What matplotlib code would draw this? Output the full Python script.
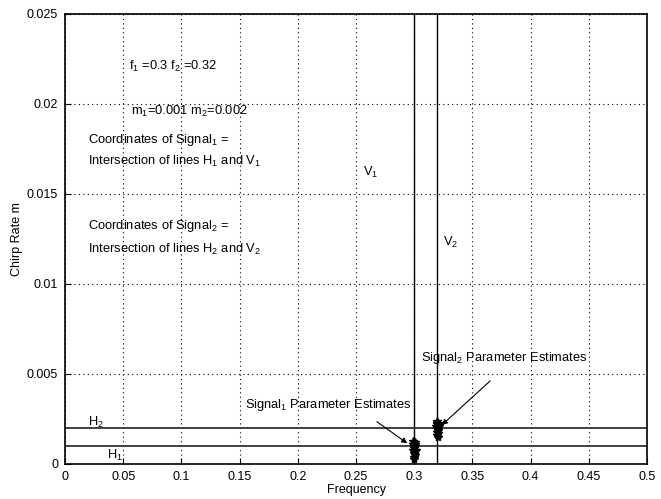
import numpy as np
import matplotlib
matplotlib.use("Agg")
import matplotlib.pyplot as plt

plt.rcParams['font.family'] = ['Liberation Sans', 'DejaVu Sans']
plt.rcParams['mathtext.fontset'] = 'custom'
plt.rcParams['mathtext.rm'] = 'Liberation Sans'
plt.rcParams['mathtext.it'] = 'Liberation Sans'

# true signal parameters
f1, f2 = 0.3, 0.32
m1, m2 = 0.001, 0.002

# parameter estimates
est1_f = [0.2990, 0.3005, 0.3010, 0.2995, 0.3000, 0.3012, 0.2988, 0.3003, 0.2997, 0.3008,
          0.3001, 0.2993, 0.3006, 0.2999, 0.3002, 0.2996]
est1_m = [0.0013, 0.0012, 0.0011, 0.0010, 0.0009, 0.0008, 0.0011, 0.0007, 0.0006, 0.0005,
          0.0004, 0.0008, 0.0010, 0.0003, 0.0012, 0.0007]
est2_f = [0.3195, 0.3205, 0.3212, 0.3190, 0.3200, 0.3208, 0.3198, 0.3203, 0.3193, 0.3210,
          0.3201, 0.3197, 0.3206, 0.3199]
est2_m = [0.0024, 0.0023, 0.0022, 0.0021, 0.0020, 0.0019, 0.0018, 0.0017, 0.0016, 0.0021,
          0.0015, 0.0022, 0.0019, 0.0023]

fig = plt.figure(figsize=(6.61, 4.99), dpi=100)
ax = fig.add_axes([65/661, 35/499, 582/661, 450/499])

ax.axvline(f1, color='black', lw=1)
ax.axvline(f2, color='black', lw=1)
ax.axhline(m1, color='#333333', lw=1.3)
ax.axhline(m2, color='#333333', lw=1.3)

ax.plot(est1_f, est1_m, '*', color='black', ms=6)
ax.plot(est2_f, est2_m, '*', color='black', ms=6)

ax.set_xlim(0, 0.5)
ax.set_ylim(0, 0.025)
ax.set_xticks(np.arange(0, 0.51, 0.05))
ax.set_xticklabels(['0', '0.05', '0.1', '0.15', '0.2', '0.25', '0.3', '0.35', '0.4', '0.45', '0.5'])
ax.set_yticks(np.arange(0, 0.0251, 0.005))
ax.set_yticklabels(['0', '0.005', '0.01', '0.015', '0.02', '0.025'])
ax.tick_params(direction='in', labelsize=9, length=4, pad=5)
ax.grid(True, linestyle=(0, (1, 3)), color='black', lw=0.8)
for s in ax.spines.values():
    s.set_linewidth(1.2)

ax.set_xlabel('Frequency', fontsize=9, labelpad=1)
ax.set_ylabel('Chirp Rate m', fontsize=9, labelpad=3)

fs = 9.3
ax.text(0.055, 0.0221, r'f$_1$ =0.3 f$_2$ =0.32', fontsize=fs, va='center')
ax.text(0.057, 0.0196, r'm$_1$=0.001 m$_2$=0.002', fontsize=fs, va='center')
ax.text(0.020, 0.0180, r'Coordinates of Signal$_1$ =', fontsize=fs, va='center')
ax.text(0.020, 0.0168, r'Intersection of lines H$_1$ and V$_1$', fontsize=fs, va='center')
ax.text(0.020, 0.0132, r'Coordinates of Signal$_2$ =', fontsize=fs, va='center')
ax.text(0.020, 0.0119, r'Intersection of lines H$_2$ and V$_2$', fontsize=fs, va='center')
ax.text(0.256, 0.0162, r'V$_1$', fontsize=fs, va='center')
ax.text(0.325, 0.0123, r'V$_2$', fontsize=fs, va='center')
ax.text(0.020, 0.0023, r'H$_2$', fontsize=fs, va='center')
ax.text(0.036, 0.0005, r'H$_1$', fontsize=fs, va='center')

ax.annotate(r'Signal$_2$ Parameter Estimates', xy=(0.322, 0.00206), xytext=(0.306, 0.0059),
            fontsize=fs, va='center')
ax.annotate('', xy=(0.322, 0.00206), xytext=(0.367, 0.00472),
            arrowprops=dict(arrowstyle='-|>', color='black', lw=0.8, mutation_scale=8))
ax.annotate(r'Signal$_1$ Parameter Estimates', xy=(0.296, 0.00106), xytext=(0.155, 0.0033),
            fontsize=fs, va='center')
ax.annotate('', xy=(0.296, 0.00106), xytext=(0.266, 0.00244),
            arrowprops=dict(arrowstyle='-|>', color='black', lw=0.8, mutation_scale=8))

fig.savefig('out.png', dpi=100)
